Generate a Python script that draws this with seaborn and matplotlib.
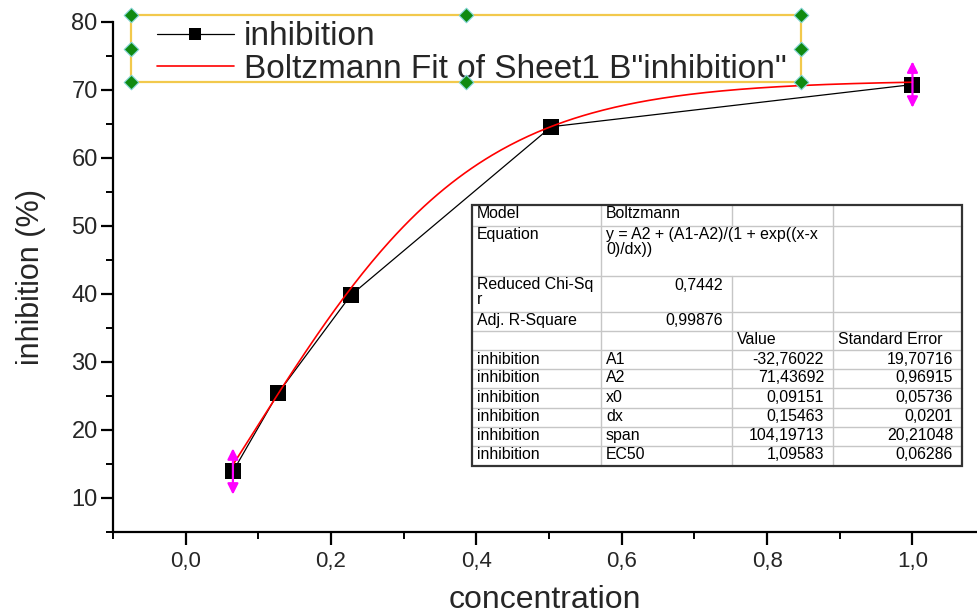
import numpy as np
import pandas as pd
import matplotlib
matplotlib.use("Agg")
import matplotlib.pyplot as plt
import seaborn as sns
from matplotlib.patches import Rectangle
from matplotlib.ticker import MultipleLocator

# Measured inhibition versus concentration
concentration = [0.065, 0.127, 0.227, 0.503, 1.0]
inhibition = [13.9, 25.4, 39.8, 64.6, 70.8]

# Boltzmann fit parameters (value column of the results table)
A1, A2, x0, dx = -32.76022, 71.43692, 0.09151, 0.15463

x_ticks = [0.0, 0.2, 0.4, 0.6, 0.8, 1.0]
x_tick_labels = ["0,0", "0,2", "0,4", "0,6", "0,8", "1,0"]
y_ticks = [10, 20, 30, 40, 50, 60, 70, 80]
y_tick_labels = ["10", "20", "30", "40", "50", "60", "70", "80"]

series_labels = ["inhibition", 'Boltzmann Fit of Sheet1 B"inhibition"']

# Fit report table; None marks a cell merged into its left neighbour
table_text = [
    ["Model", "Boltzmann", "", ""],
    ["Equation", "y = A2 + (A1-A2)/(1 + exp((x-x\n0)/dx))", None, ""],
    ["Reduced Chi-Sq\nr", "0,7442", "", ""],
    ["Adj. R-Square", "0,99876", "", ""],
    ["", "", "Value", "Standard Error"],
    ["inhibition", "A1", "-32,76022", "19,70716"],
    ["inhibition", "A2", "71,43692", "0,96915"],
    ["inhibition", "x0", "0,09151", "0,05736"],
    ["inhibition", "dx", "0,15463", "0,0201"],
    ["inhibition", "span", "104,19713", "20,21048"],
    ["inhibition", "EC50", "1,09583", "0,06286"],
]

W, H = 977, 613
sns.set_theme(style="ticks")
plt.rcParams["font.family"] = ["Liberation Sans", "DejaVu Sans"]

fig = plt.figure(figsize=(W / 100, H / 100), dpi=100)
fig.patch.set_facecolor("white")

ax_l, ax_r, ax_t, ax_b = 113, W, 22, 532
ax = fig.add_axes([ax_l / W, 1 - ax_b / H, (ax_r - ax_l) / W, (ax_b - ax_t) / H])
ax.set_facecolor("white")

df = pd.DataFrame({"concentration": concentration, "inhibition": inhibition})
sns.lineplot(data=df, x="concentration", y="inhibition", ax=ax, color="black",
             lw=0.9, marker="s", markersize=11, markeredgecolor="black",
             markeredgewidth=0, label=series_labels[0], zorder=3)

x_fit = np.linspace(concentration[0], concentration[-1], 300)
y_fit = A2 + (A1 - A2) / (1 + np.exp((x_fit - x0) / dx))
sns.lineplot(x=x_fit, y=y_fit, ax=ax, color="red", lw=1.2,
             label=series_labels[1], zorder=4)

# Fit range markers on the first and last points
for i in (0, -1):
    ax.annotate("", xy=(concentration[i], inhibition[i] + 3.4),
                xytext=(concentration[i], inhibition[i] - 3.4),
                arrowprops=dict(arrowstyle="<|-|>", color="#ff00ff", lw=1.6,
                                mutation_scale=16, shrinkA=0, shrinkB=0),
                zorder=5)

ax.set_xlim(-0.1, -0.1 + (ax_r - ax_l) / 726.8)
ax.set_ylim(5, 80)
ax.set_xticks(x_ticks)
ax.set_xticklabels(x_tick_labels)
ax.set_yticks(y_ticks)
ax.set_yticklabels(y_tick_labels)
ax.xaxis.set_minor_locator(MultipleLocator(0.1))
ax.yaxis.set_minor_locator(MultipleLocator(5))
ax.tick_params(which="major", direction="out", length=9, width=1.6,
               color="black")
ax.tick_params(which="minor", direction="out", length=5, width=1.4, color="black")
ax.tick_params(axis="x", labelsize=16, pad=5)
ax.tick_params(axis="y", labelsize=17, pad=2)
for s in ("top", "right"):
    ax.spines[s].set_visible(False)
for s in ("left", "bottom"):
    ax.spines[s].set_linewidth(1.6)
    ax.spines[s].set_color("black")

ax.set_xlabel("concentration", fontsize=23, labelpad=9)
ax.set_ylabel("inhibition (%)", fontsize=22, labelpad=18)

handles, labels = ax.get_legend_handles_labels()
ax.legend(handles, labels, loc="center left", frameon=False,
          bbox_to_anchor=(157 / W, 1 - 53 / H), bbox_transform=fig.transFigure,
          borderaxespad=0, borderpad=0, handlelength=2.3, handletextpad=0.3,
          labelspacing=0.05, fontsize=24, numpoints=1, markerscale=0.8)

# Overlay in pixel coordinates for the legend frame and the fit table
ov = fig.add_axes([0, 0, 1, 1], facecolor="none")
ov.set_xlim(0, W)
ov.set_ylim(H, 0)
ov.axis("off")

bx0, by0, bx1, by1 = 131, 15, 801, 82
ov.add_patch(Rectangle((bx0, by0), bx1 - bx0, by1 - by0, fill=False,
                       edgecolor="#f2c94c", lw=1.6, zorder=2))
bxm, bym = (bx0 + bx1) / 2, (by0 + by1) / 2
hx = [bx0, bxm, bx1, bx0, bx1, bx0, bxm, bx1]
hy = [by0, by0, by0, bym, bym, by1, by1, by1]
ov.scatter(hx, hy, marker="D", s=55, color="#108a10", edgecolors="#7fd3d3",
           linewidths=0.8, zorder=3)

col_x = [472, 601, 732, 833, 962]
row_y = [205, 225.5, 276, 311.5, 331, 350, 369, 388, 407.5, 426.5, 445.5, 466]
grid_c = "#c6c6c6"
ov.add_patch(Rectangle((col_x[0], row_y[0]), col_x[-1] - col_x[0],
                       row_y[-1] - row_y[0], facecolor="white", edgecolor="none",
                       zorder=1))
for r in range(1, len(row_y) - 1):
    ov.plot([col_x[0], col_x[-1]], [row_y[r], row_y[r]], color=grid_c, lw=1, zorder=2)
for r, row in enumerate(table_text):
    for c in range(1, 4):
        if row[c] is None:
            continue
        ov.plot([col_x[c], col_x[c]], [row_y[r], row_y[r + 1]], color=grid_c,
                lw=1, zorder=2)
ov.add_patch(Rectangle((col_x[0], row_y[0]), col_x[-1] - col_x[0],
                       row_y[-1] - row_y[0], fill=False, edgecolor="#333333",
                       lw=1.6, zorder=3))

for r, row in enumerate(table_text):
    for c, txt in enumerate(row):
        if not txt:
            continue
        c_end = c + 1
        while c_end < 4 and row[c_end] is None:
            c_end += 1
        right = txt[0] in "-0123456789"
        for k, line in enumerate(txt.split("\n")):
            ty = row_y[r] + 9 + k * 15
            if right:
                ov.text(col_x[c_end] - 9, ty, line, ha="right", va="center",
                        fontsize=11.4, color="#000000", zorder=4)
            else:
                ov.text(col_x[c] + 5, ty, line, ha="left", va="center",
                        fontsize=11.4, color="#000000", zorder=4)

fig.savefig("out.png", dpi=100)
